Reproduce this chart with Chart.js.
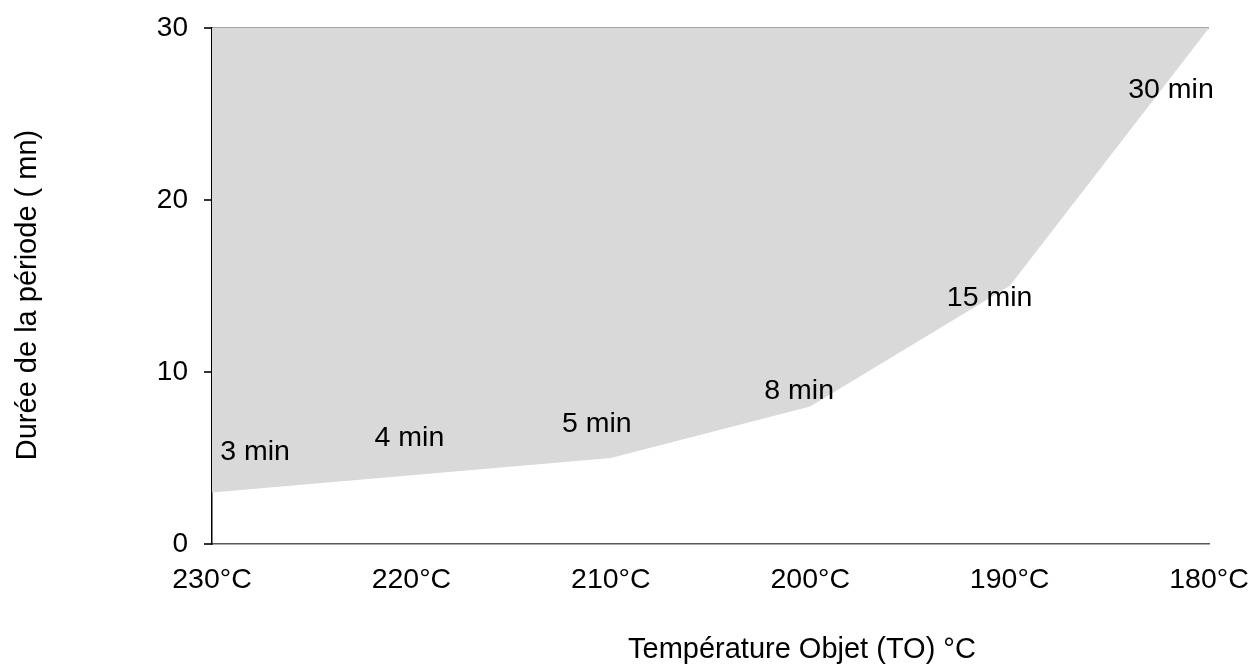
<!DOCTYPE html>
<html>
<head>
<meta charset="utf-8">
<script src="https://cdn.jsdelivr.net/npm/chart.js@4"></script>
<style>
  html, body { margin: 0; padding: 0; background: #fff; }
  #wrap { width: 1252px; height: 664px; }
</style>
</head>
<body>
<div id="wrap"><canvas id="periodChart"></canvas></div>
<script>
// Data
const temperatures = ['230°C', '220°C', '210°C', '200°C', '190°C', '180°C'];
const durations = [3, 4, 5, 8, 15, 30];
const yTicks = [0, 10, 20, 30];
const xTitle = 'Température Objet (TO) °C';
const yTitle = 'Durée de la période ( mn)';

// where each "x min" label sits relative to its point (px)
const labelOffsets = [[43, -40], [-2, -37], [-14, -34], [-11, -15], [-20, 12], [-38, 62]];

const FONT = '"Liberation Sans", Arial, sans-serif';

const pointLabels = {
    id: 'pointLabels',
    afterDatasetsDraw(chart) {
        const ctx = chart.ctx;
        const meta = chart.getDatasetMeta(0);
        ctx.save();
        ctx.font = '28.5px ' + FONT;
        ctx.fillStyle = '#000';
        ctx.textAlign = 'center';
        ctx.textBaseline = 'middle';
        meta.data.forEach((pt, i) => {
            const off = labelOffsets[i];
            ctx.fillText(durations[i] + ' min', pt.x + off[0], pt.y + off[1]);
        });
        ctx.restore();
    }
};

// axis titles, placed like in the reference
const axisTitles = {
    id: 'axisTitles',
    afterDraw(chart) {
        const ctx = chart.ctx;
        ctx.save();
        ctx.font = '29px ' + FONT;
        ctx.fillStyle = '#000';
        ctx.textBaseline = 'middle';
        ctx.textAlign = 'left';
        ctx.fillText(xTitle, 628, 650);
        ctx.translate(28, 295);
        ctx.rotate(-Math.PI / 2);
        ctx.textAlign = 'center';
        ctx.fillText(yTitle, 0, 0);
        ctx.restore();
    }
};

document.addEventListener('DOMContentLoaded', function () {
    const ctx = document.getElementById('periodChart').getContext('2d');
    new Chart(ctx, {
        type: 'line',
        data: {
            labels: temperatures,
            datasets: [{
                data: durations,
                fill: 'end',
                backgroundColor: '#d9d9d9',
                borderWidth: 0,
                pointRadius: 0,
                tension: 0
            }]
        },
        options: {
            responsive: true,
            maintainAspectRatio: false,
            animation: false,
            layout: { padding: { left: 0, right: 43, top: 28, bottom: 0 } },
            plugins: {
                legend: { display: false },
                tooltip: { enabled: false }
            },
            scales: {
                x: {
                    offset: false,
                    grid: { display: true, color: 'transparent', drawTicks: false },
                    border: { display: true, color: '#595959', width: 1.5 },
                    ticks: {
                        color: '#000',
                        padding: 19,
                        maxRotation: 0,
                        font: { family: FONT, size: 28.5 }
                    },
                    afterFit: function (scale) {
                        scale.height = 120;
                        scale.paddingLeft = 0;
                        scale.paddingRight = 0;
                    }
                },
                y: {
                    min: 0,
                    max: 30,
                    afterBuildTicks: function (scale) {
                        scale.ticks = yTicks.map(v => ({ value: v }));
                    },
                    grid: {
                        drawTicks: true,
                        tickLength: 8,
                        tickColor: '#333',
                        color: function (c) { return c.tick && c.tick.value === 30 ? '#a6a6a6' : 'transparent'; },
                        lineWidth: 2
                    },
                    border: { display: true, color: '#000', width: 1.5 },
                    ticks: {
                        color: '#000',
                        padding: 16,
                        font: { family: FONT, size: 28 }
                    },
                    afterFit: function (scale) {
                        scale.width = 212;
                        scale.paddingTop = 0;
                        scale.paddingBottom = 0;
                    }
                }
            }
        },
        plugins: [pointLabels, axisTitles]
    });
});
</script>
</body>
</html>
